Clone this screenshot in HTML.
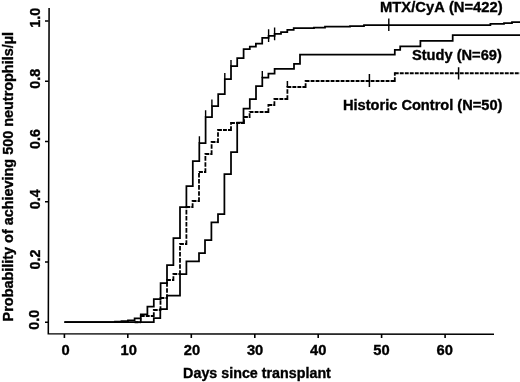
<!DOCTYPE html>
<html><head><meta charset="utf-8"><title>Figure</title>
<style>
html,body{margin:0;padding:0;background:#fff;}
svg{display:block;}
text{font-family:"Liberation Sans",Arial,Helvetica,sans-serif;font-kerning:none;font-weight:bold;font-size:14px;fill:#000;stroke:#000;stroke-width:0.35px;}
.t{font-size:14.3px;}
</style></head><body>
<svg width="520" height="382" viewBox="0 0 520 382">
<rect width="520" height="382" fill="#fff"/>
<g fill="none" stroke="#000" stroke-width="1.75" stroke-linejoin="miter">
<path d="M49.1,8L48.3,333.8L494,334.3" stroke-width="1.55"/>
<path d="M64.4,334V338M127.8,334V338M191.3,334V338M254.8,334V338M318.2,334V338M381.6,334V338M445.1,334V338M48.6,322.2H45M48.6,262.0H45M48.6,201.7H45M48.6,141.5H45M48.6,81.2H45M48.6,21.0H45" stroke-width="1.6"/>
<path d="M64.4,322.2H115V321.6H121.5V321.2H128V320.4H134.6V318.3H140.8V314.4H147.4V306.5H153.8V299H160.6V283H167V265H173.4V238H180V207H186.4V186H192.8V161H199.3V143H205.6V117H212V106H218.2V94H224.8V79H231V66H237.2V58H243.6V49H249.8V46.6H255.9V43.7H262.2V37.9H268.6V35.8H274.6V33.9H281V32.2H287.3V29.8H293.7V28H314V27.5H325V26.6H350V26H364V25H490.4V23.8H504V23H512V22.2H521"/>
<path d="M199.4,136.3V143M205.6,110.3V117M211.9,99.6V106.3M224.8,73V79M231,60V66M268.6,29.3V42M274.6,27.5V40.2M388.8,18.6V31" stroke-width="1.4"/>
<path d="M64.4,322.2H153.8V318H160.3V309H167V295.5H180V274H186.4V261.4H199V253H205V240H211.4V222.4H218V214H224.4V174H231V152H237.2V122.5H243.5V108.5H249.8V99H256V86H262.3V77.6H268.4V73.6H274.6V68.8H294V63.8H300V54.5H394.8V49.8H400.2V46.3H420.4V40.9H452.7V35H521"/>
<path d="M262.3,71V78" stroke-width="1.4"/>
<path d="M134.6,322.2H140.8M140.8,316H153.8M153.8,310H160.5M160.5,298H167M167,280H173.4M173.4,274H180M180,244H186.4M186.4,207H192.6M192.6,201H199M199,172H205.4M205.4,154H211.6M211.6,142H218M218,130H231M231,123H244M244,117H249.6M249.6,112H268.4M268.4,105H274.4M274.4,99H287.4M287.4,87H305.6M305.6,81H394.8M394.8,73.2H521" stroke-dasharray="3.9 1.1" stroke-width="1.9"/>
<path d="M140.8,323.09999999999997V315.1M153.8,316.9V309.1M160.5,310.9V297.1M167,298.9V279.1M173.4,280.9V273.1M180,274.9V243.1M186.4,244.9V206.1M192.6,207.9V200.1M199,201.9V171.1M205.4,172.9V153.1M211.6,154.9V141.1M218,142.9V129.1M231,130.9V122.1M244,123.9V116.1M249.6,117.9V111.1M268.4,112.9V104.1M274.4,105.9V98.1M287.4,99.9V86.1M305.6,87.9V80.1M394.8,81.9V72.3" stroke-dasharray="4.6 1.5" stroke-width="1.8"/>
<path d="M287.4,81V87M369.4,74V87M458.6,67.3V79.4" stroke-width="1.5"/>
</g>
<g><text class="t" transform="translate(65.5,354.5) scale(1.03,1)" text-anchor="middle">0</text><text class="t" transform="translate(128.7,354.5) scale(1.03,1)" text-anchor="middle">10</text><text class="t" transform="translate(191.9,354.5) scale(1.03,1)" text-anchor="middle">20</text><text class="t" transform="translate(255.1,354.5) scale(1.03,1)" text-anchor="middle">30</text><text class="t" transform="translate(318.3,354.5) scale(1.03,1)" text-anchor="middle">40</text><text class="t" transform="translate(381.5,354.5) scale(1.03,1)" text-anchor="middle">50</text><text class="t" transform="translate(444.7,354.5) scale(1.03,1)" text-anchor="middle">60</text><text class="t" transform="translate(39.3,319.7) rotate(-90) scale(1.0,1)" text-anchor="middle">0.0</text><text class="t" transform="translate(39.5,259.5) rotate(-90) scale(1.0,1)" text-anchor="middle">0.2</text><text class="t" transform="translate(39.6,199.2) rotate(-90) scale(1.0,1)" text-anchor="middle">0.4</text><text class="t" transform="translate(39.8,139.0) rotate(-90) scale(1.0,1)" text-anchor="middle">0.6</text><text class="t" transform="translate(39.9,78.7) rotate(-90) scale(1.0,1)" text-anchor="middle">0.8</text><text class="t" transform="translate(40.1,17.7) rotate(-90) scale(1.0,1)" text-anchor="middle">1.0</text>
<text transform="translate(502.6,12.4) scale(1.054,1)" text-anchor="end">MTX/CyA (N=422)</text>
<text transform="translate(501.8,59.8) scale(1.046,1)" text-anchor="end">Study (N=69)</text>
<text transform="translate(502.4,110.0) scale(1.044,1)" text-anchor="end">Historic Control (N=50)</text>
<text transform="translate(257.0,377.6) scale(1.022,1)" text-anchor="middle">Days since transplant</text>
<text transform="translate(13.0,176.7) rotate(-90) scale(1.03,1)" text-anchor="middle">Probability of achieving 500 neutrophils/µl</text>
</g>
</svg>
</body></html>
